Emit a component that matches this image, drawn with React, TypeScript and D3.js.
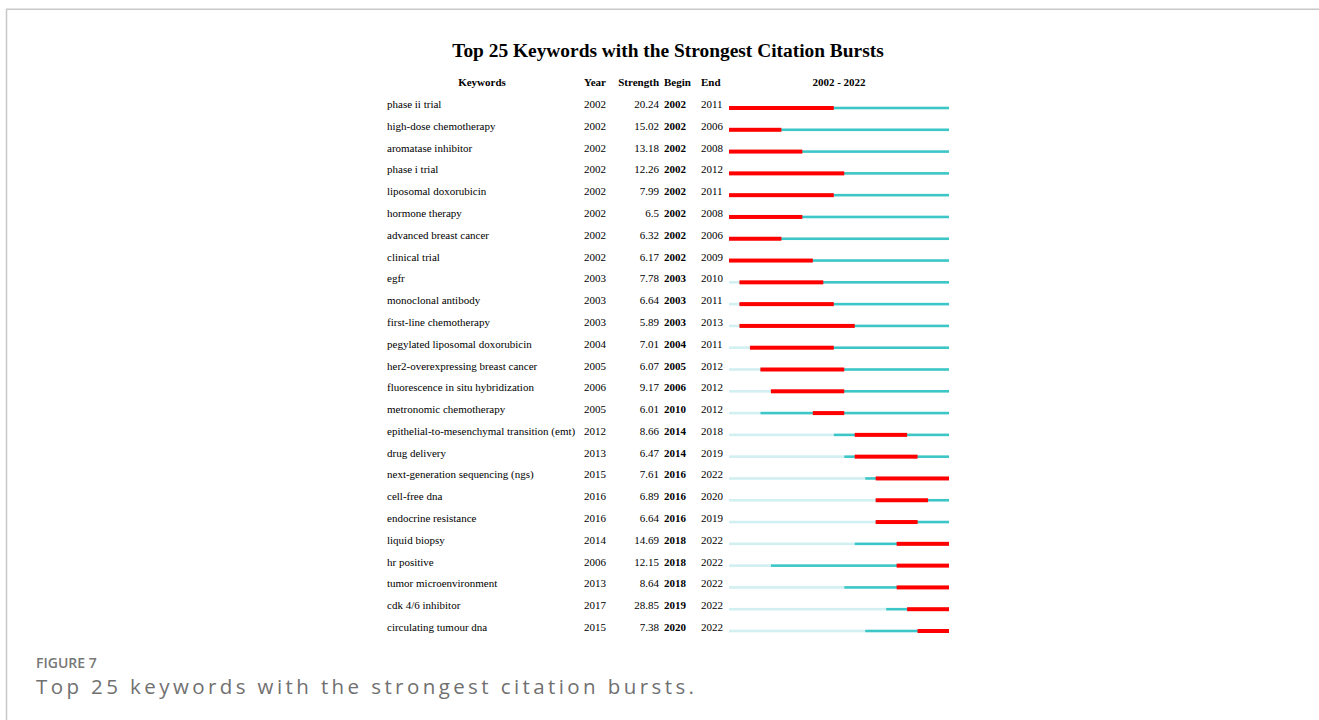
import React from "react";
import * as d3 from "d3";

const keywords = [
  "phase ii trial",
  "high-dose chemotherapy",
  "aromatase inhibitor",
  "phase i trial",
  "liposomal doxorubicin",
  "hormone therapy",
  "advanced breast cancer",
  "clinical trial",
  "egfr",
  "monoclonal antibody",
  "first-line chemotherapy",
  "pegylated liposomal doxorubicin",
  "her2-overexpressing breast cancer",
  "fluorescence in situ hybridization",
  "metronomic chemotherapy",
  "epithelial-to-mesenchymal transition (emt)",
  "drug delivery",
  "next-generation sequencing (ngs)",
  "cell-free dna",
  "endocrine resistance",
  "liquid biopsy",
  "hr positive",
  "tumor microenvironment",
  "cdk 4/6 inhibitor",
  "circulating tumour dna",
];
const years = [2002, 2002, 2002, 2002, 2002, 2002, 2002, 2002, 2003, 2003, 2003, 2004, 2005, 2006, 2005, 2012, 2013, 2015, 2016, 2016, 2014, 2006, 2013, 2017, 2015];
const strengths = ["20.24", "15.02", "13.18", "12.26", "7.99", "6.5", "6.32", "6.17", "7.78", "6.64", "5.89", "7.01", "6.07", "9.17", "6.01", "8.66", "6.47", "7.61", "6.89", "6.64", "14.69", "12.15", "8.64", "28.85", "7.38"];
const begins = [2002, 2002, 2002, 2002, 2002, 2002, 2002, 2002, 2003, 2003, 2003, 2004, 2005, 2006, 2010, 2014, 2014, 2016, 2016, 2016, 2018, 2018, 2018, 2019, 2020];
const ends = [2011, 2006, 2008, 2012, 2011, 2008, 2006, 2009, 2010, 2011, 2013, 2011, 2012, 2012, 2012, 2018, 2019, 2022, 2020, 2019, 2022, 2022, 2022, 2022, 2022];
const startYear = 2002;
const endYear = 2022;

const serif = '"Liberation Serif", "Times New Roman", Times, serif';
const sans = '"Open Sans", "Noto Sans", Lato, sans-serif';

export default function App() {
  const W = 1319;
  const H = 720;
  const x = d3.scaleLinear().domain([startYear, endYear + 1]).range([729, 949]);
  const y = d3.scalePoint<string>().domain(keywords).range([104, 627]);
  const LIGHT = "#d2eff1";
  const TEAL = "#3cc6c8";
  const RED = "#ff0000";

  return (
    <svg width={W} height={H} style={{ position: "absolute", left: 0, top: 0, background: "#fff" }}>
      <rect x={0} y={0} width={W} height={H} fill="#fff" />
      <line x1={6.5} y1={9} x2={6.5} y2={H} stroke="#c8c8c8" strokeWidth={1.5} />
      <line x1={6} y1={9.2} x2={W} y2={9.2} stroke="#c8c8c8" strokeWidth={1.5} />

      <text x={668} y={57} textAnchor="middle" fontFamily={serif} fontWeight="bold" fontSize={19.4} fill="#000">
        Top 25 Keywords with the Strongest Citation Bursts
      </text>

      <g fontFamily={serif} fontSize={11} fontWeight="bold" fill="#000">
        <text x={482} y={86} textAnchor="middle">Keywords</text>
        <text x={584} y={86}>Year</text>
        <text x={659} y={86} textAnchor="end">Strength</text>
        <text x={664} y={86}>Begin</text>
        <text x={701} y={86}>End</text>
        <text x={839} y={86} textAnchor="middle">{`${startYear} - ${endYear}`}</text>
      </g>

      {keywords.map((k, i) => {
        const cy = y(k) as number;
        const base = cy + 4;
        const by = cy + 4;
        return (
          <g key={k}>
            <text x={387} y={base} fontFamily={serif} fontSize={11} fill="#000">{k}</text>
            <text x={584} y={base} fontFamily={serif} fontSize={11} fill="#000">{years[i]}</text>
            <text x={659} y={base} textAnchor="end" fontFamily={serif} fontSize={11} fill="#000">{strengths[i]}</text>
            <text x={664} y={base} fontFamily={serif} fontSize={11} fontWeight="bold" fill="#000">{begins[i]}</text>
            <text x={701} y={base} fontFamily={serif} fontSize={11} fill="#000">{ends[i]}</text>
            <rect x={x(startYear)} y={by - 1.3} width={x(years[i]) - x(startYear)} height={2.6} fill={LIGHT} />
            <rect x={x(years[i])} y={by - 1.3} width={x(endYear + 1) - x(years[i])} height={2.6} fill={TEAL} />
            <rect x={x(begins[i])} y={by - 2} width={x(ends[i] + 1) - x(begins[i])} height={4} fill={RED} />
          </g>
        );
      })}

      <text x={36} y={668} fontFamily={sans} fontSize={14} fontWeight={600} fill="#777">FIGURE 7</text>
      <text x={36} y={694} fontFamily={sans} fontSize={20.5} fill="#707070" textLength={658} lengthAdjust="spacing">
        Top 25 keywords with the strongest citation bursts.
      </text>
    </svg>
  );
}
